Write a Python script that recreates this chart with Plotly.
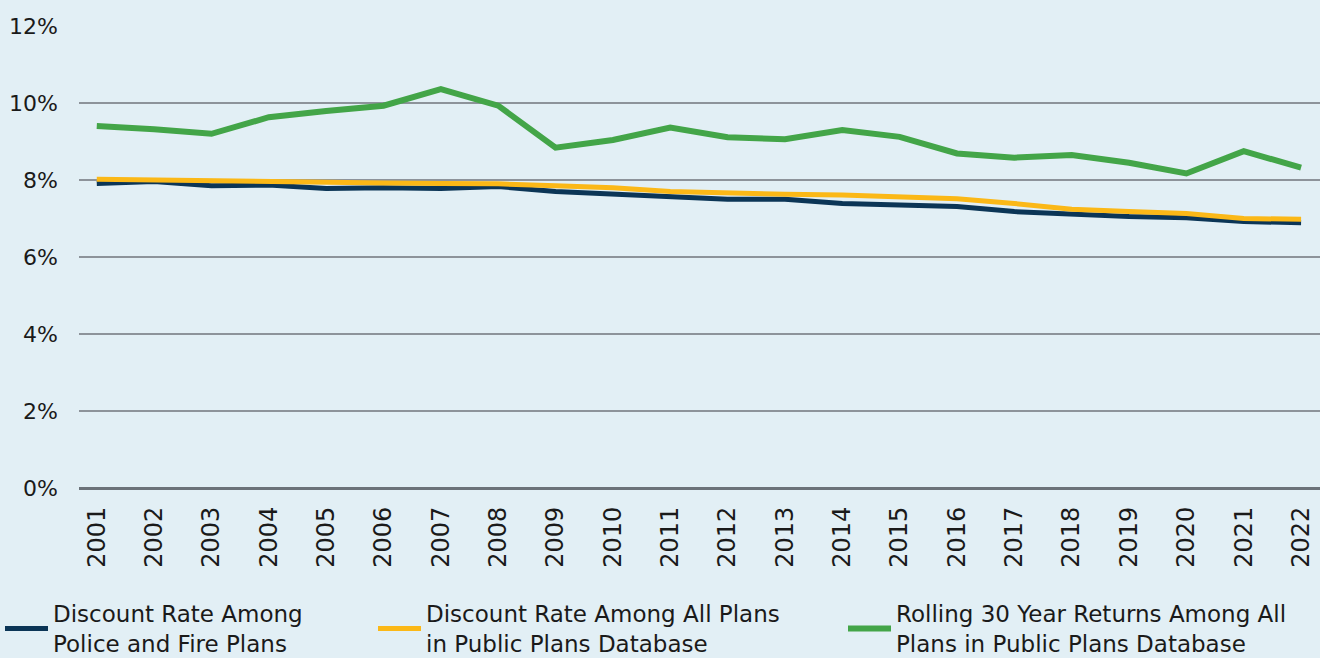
import plotly.graph_objects as go

years = list(range(2001, 2023))
police_fire = [7.91, 7.96, 7.85, 7.87, 7.78, 7.80, 7.78, 7.83, 7.70, 7.64, 7.57,
               7.50, 7.50, 7.39, 7.35, 7.31, 7.18, 7.11, 7.05, 7.02, 6.92, 6.89]
all_plans = [8.02, 8.00, 7.97, 7.93, 7.92, 7.92, 7.91, 7.90, 7.85, 7.80, 7.70,
             7.65, 7.63, 7.61, 7.57, 7.51, 7.39, 7.24, 7.18, 7.13, 7.00, 6.98]
rolling30 = [9.40, 9.32, 9.20, 9.63, 9.79, 9.93, 10.36, 9.93, 8.84, 9.04, 9.36,
             9.11, 9.06, 9.30, 9.12, 8.69, 8.58, 8.65, 8.45, 8.17, 8.75, 8.32]
y_ticks = [0, 2, 4, 6, 8, 10, 12]
y_tick_labels = ["0%", "2%", "4%", "6%", "8%", "10%", "12%"]

names = ["Discount Rate Among<br>Police and Fire Plans",
         "Discount Rate Among All Plans<br>in Public Plans Database",
         "Rolling 30 Year Returns Among All<br>Plans in Public Plans Database"]
colors = ["#0b3556", "#fbb817", "#43a548"]
series = [police_fire, all_plans, rolling30]
legend_ids = ["legend", "legend2", "legend3"]
legend_px = [0, 373, 843]

FONT = "DejaVu Sans"
BG = "#e2eff5"
TXT = "#1a1a1a"
W, H = 1320, 658

fig = go.Figure()
for i, lw in zip([0, 1, 2], [5, 5, 6]):
    fig.add_trace(go.Scatter(
        x=years, y=series[i], mode="lines", name=names[i],
        line=dict(color=colors[i], width=lw), legend=legend_ids[i],
    ))

legend_common = dict(orientation="h", xanchor="left", yanchor="top",
                     xref="container", yref="container", y=1 - 592 / H,
                     font=dict(family=FONT, size=23, color=TXT),
                     bgcolor="rgba(0,0,0,0)", itemwidth=43)

layout_legends = {}
for lid, px in zip(legend_ids, legend_px):
    layout_legends[lid] = dict(legend_common, x=px / W)

fig.update_layout(
    width=W, height=H,
    paper_bgcolor=BG, plot_bgcolor=BG,
    margin=dict(l=79, r=0, t=26, b=170, autoexpand=False),
    font=dict(family=FONT, size=22, color=TXT),
    showlegend=True,
    xaxis=dict(
        tickmode="array", tickvals=years, ticktext=[str(y) for y in years],
        range=[2000.69, 2022.33], tickangle=-90, showgrid=False, zeroline=False,
        showline=False, ticks="", ticklabelstandoff=13, automargin=False,
        tickfont=dict(family=FONT, size=24, color=TXT),
    ),
    yaxis=dict(
        range=[0, 12], tickmode="array", tickvals=y_ticks, ticktext=y_tick_labels,
        showgrid=True, gridcolor="#8d939a", gridwidth=1.5,
        zeroline=True, zerolinecolor="#6b7279", zerolinewidth=2.5,
        showline=False, ticks="", ticklabelstandoff=20, automargin=False,
        tickfont=dict(family=FONT, size=22, color=TXT),
    ),
    **layout_legends,
)

fig.write_html("out.html",
               config={"displayModeBar": False},
               post_script="document.body.style.margin='0px';"
                           "document.body.style.overflow='hidden';")
